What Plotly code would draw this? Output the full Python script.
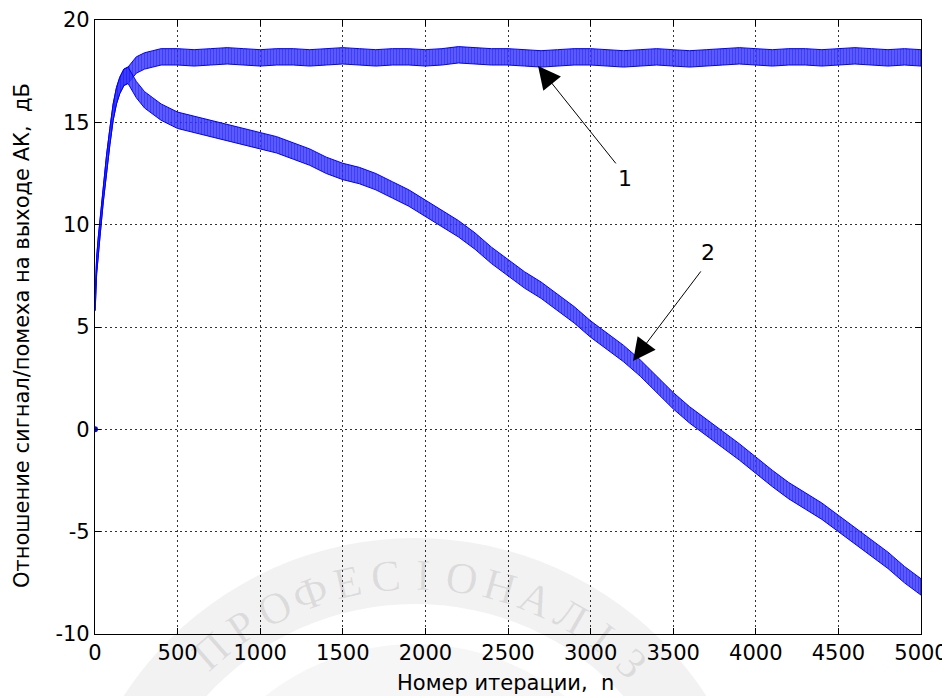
import math
import plotly.graph_objects as go

# ---- data (SNR in dB vs iteration number) ----
# shared initial rise of both curves
n_start = [0, 1, 10, 20, 30, 50, 70, 90, 110, 130, 150, 175, 200]
snr_start = [0.0, 6.2, 8.0, 9.0, 9.8, 11.5, 13.0, 14.3, 15.5, 16.3, 16.8, 17.2, 17.3]

n_tail = [250, 300, 350, 400] + list(range(500, 5001, 100))

# curve 1 (levels off at ~18 dB)
snr1_tail = [17.8, 18.0, 18.1, 18.2,
             18.2, 18.15, 18.2, 18.25, 18.2, 18.15, 18.2, 18.2, 18.15, 18.2,
             18.25, 18.2, 18.15, 18.2, 18.2, 18.15, 18.2, 18.3, 18.25, 18.2,
             18.2, 18.15, 18.1, 18.15, 18.2, 18.2, 18.15, 18.1, 18.15, 18.2,
             18.15, 18.1, 18.15, 18.2, 18.25, 18.2, 18.15, 18.2, 18.2, 18.15,
             18.2, 18.25, 18.2, 18.15, 18.2, 18.15]

# curve 2 (degrades steadily)
snr2_tail = [16.6, 16.1, 15.8, 15.5,
             15.1, 14.9, 14.7, 14.5, 14.3, 14.1, 13.9, 13.6, 13.3, 12.9,
             12.6, 12.4, 12.1, 11.7, 11.3, 10.8, 10.3, 9.8, 9.2, 8.5,
             7.9, 7.3, 6.8, 6.2, 5.6, 4.9, 4.3, 3.7, 3.0, 2.2,
             1.4, 0.7, 0.1, -0.5, -1.1, -1.75, -2.4, -3.0, -3.5, -4.0,
             -4.6, -5.2, -5.8, -6.4, -7.1, -7.7]

# half-width of the noisy band around each curve, dB
noise_halfwidth = 0.4

x_ticks = [0, 500, 1000, 1500, 2000, 2500, 3000, 3500, 4000, 4500, 5000]
y_ticks = [-10, -5, 0, 5, 10, 15, 20]

x_title = "Номер итерации,  n"
y_title = "Отношение сигнал/помеха на выходе АК,  дБ"
labels = ["1", "2"]
watermark_text = "ПРОФЕСІОНАЛІЗ"   # visible part of the stamp

BLUE = "#0000ff"
FONT = "DejaVu Sans, Liberation Sans, sans-serif"

# The page places the figure 8 px right / 10 px down; compensate so that the
# plot area lands at x 95..921, y 22..636 of the window.
OFF_X, OFF_Y = 8, 10
W, H = 950 - OFF_X, 698 - OFF_Y
L, T = 95 - OFF_X, 22 - OFF_Y
PW, PH = 826, 614
R, B = W - L - PW, H - T - PH


def to_paper(px, py):
    """window pixel -> paper coordinates"""
    return (px - 95) / PW, (636 - py) / PH


fig = go.Figure()


def band(n, v, hw):
    up = [a + hw for a in v]
    lo = [a - hw for a in v]
    return n + n[::-1], up + lo[::-1]


for tail in (snr1_tail, snr2_tail):
    n = n_start[1:] + n_tail
    v = snr_start[1:] + tail
    bx, by = band(n, v, noise_halfwidth)
    fig.add_trace(go.Scatter(x=bx, y=by, mode="lines", fill="toself",
                             fillcolor="rgba(20,20,255,0.8)",
                             fillpattern=dict(shape="|", size=3, solidity=0.7,
                                              fgcolor=BLUE,
                                              bgcolor="rgba(80,80,255,0.75)"),
                             line=dict(color=BLUE, width=1),
                             hoverinfo="skip", showlegend=False))

# first sample at 0 dB
fig.add_trace(go.Scatter(x=n_start[:1], y=snr_start[:1], mode="markers",
                         marker=dict(color=BLUE, size=6), showlegend=False))

axis_common = dict(showline=True, linecolor="black", linewidth=1.2, mirror="ticks",
                   ticks="inside", ticklen=6, tickcolor="black", tickwidth=1,
                   showgrid=True, gridcolor="#333333", gridwidth=1, griddash="2px,3px",
                   zeroline=False, layer="above traces",
                   tickfont=dict(family=FONT, size=21, color="black"))

fig.update_xaxes(range=[0, 5000], tickvals=x_ticks, ticktext=[str(t) for t in x_ticks],
                 **axis_common)
fig.update_yaxes(range=[-10, 20], tickvals=y_ticks, ticktext=[str(t) for t in y_ticks],
                 **axis_common)

xt = to_paper(505, 685)
yt = to_paper(22, 338)
annotations = [
    dict(text=x_title, xref="paper", yref="paper", x=xt[0], y=xt[1],
         xanchor="center", yanchor="middle", showarrow=False,
         font=dict(family=FONT, size=21, color="black")),
    dict(text=y_title, xref="paper", yref="paper", x=yt[0], y=yt[1],
         xanchor="center", yanchor="middle", textangle=-90, showarrow=False,
         font=dict(family=FONT, size=21, color="black")),
    # arrows
    dict(x=2682, y=17.75, ax=3160, ay=12.92, xref="x", yref="y", axref="x", ayref="y",
         text="", showarrow=True, arrowhead=2, arrowsize=4.5, arrowwidth=1,
         arrowcolor="black", standoff=0, startstandoff=0),
    dict(x=3257, y=3.34, ax=3674, ay=7.79, xref="x", yref="y", axref="x", ayref="y",
         text="", showarrow=True, arrowhead=2, arrowsize=4.5, arrowwidth=1,
         arrowcolor="black", standoff=0, startstandoff=0),
    dict(text=labels[0], x=3208, y=12.28, xref="x", yref="y", showarrow=False,
         font=dict(family=FONT, size=22, color="black")),
    dict(text=labels[1], x=3711, y=8.62, xref="x", yref="y", showarrow=False,
         font=dict(family=FONT, size=22, color="black")),
]

# ---- faint circular watermark stamp lying over the page ----
cx, cy = 415, 888          # centre, window px
r_out, r_in, r_txt = 348, 282, 311


def ring_path(ro, ri, steps=120):
    pts_o = []
    pts_i = []
    for k in range(steps + 1):
        a = 2 * math.pi * k / steps
        pts_o.append(to_paper(cx + ro * math.sin(a), cy - ro * math.cos(a)))
        pts_i.append(to_paper(cx + ri * math.sin(-a), cy - ri * math.cos(-a)))
    p = "M" + "L".join(f"{x:.4f},{y:.4f}" for x, y in pts_o) + "Z"
    p += "M" + "L".join(f"{x:.4f},{y:.4f}" for x, y in pts_i) + "Z"
    return p


shapes = [dict(type="path", xref="paper", yref="paper", path=ring_path(r_out, r_in),
               fillcolor="rgba(0,0,0,0.05)", line=dict(width=0), layer="above"),
          dict(type="path", xref="paper", yref="paper", path=ring_path(r_in - 40, r_in - 120),
               fillcolor="rgba(0,0,0,0.035)", line=dict(width=0), layer="above")]

start_deg, step_deg = -41.0, 7.1
for i, ch in enumerate(watermark_text):
    a = math.radians(start_deg + i * step_deg)
    px, py = cx + r_txt * math.sin(a), cy - r_txt * math.cos(a)
    xp, yp = to_paper(px, py)
    annotations.append(dict(text=ch, xref="paper", yref="paper", x=xp, y=yp,
                            xanchor="center", yanchor="middle", showarrow=False,
                            textangle=start_deg + i * step_deg,
                            font=dict(family="Liberation Serif, DejaVu Serif, serif",
                                      size=44, color="rgba(0,0,0,0.09)")))

fig.update_layout(width=W, height=H,
                  margin=dict(l=L, r=R, t=T, b=B, autoexpand=False),
                  paper_bgcolor="white", plot_bgcolor="white",
                  annotations=annotations, shapes=shapes, showlegend=False)

fig.write_html("out.html")
